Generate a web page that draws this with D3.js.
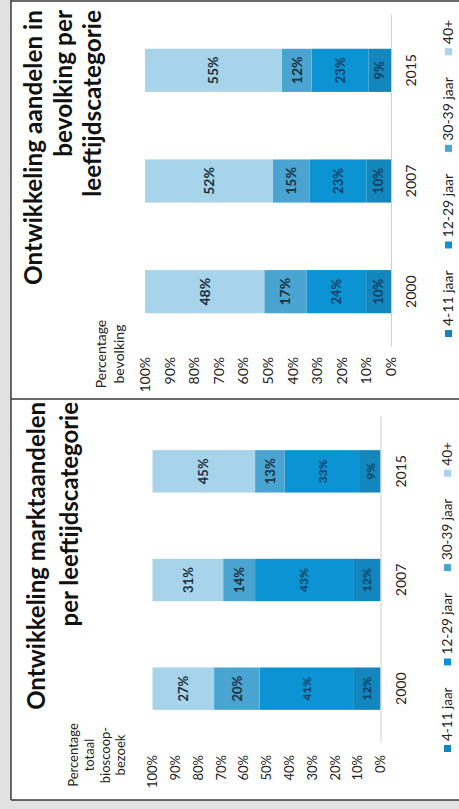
<!DOCTYPE html>
<html>
<head>
<meta charset="utf-8">
<script src="https://cdn.jsdelivr.net/npm/d3@7/dist/d3.min.js"></script>
<style>
  html, body { margin: 0; padding: 0; background: #e4e4e4; }
  svg { display: block; }
  text { font-family: Lato, "Open Sans", sans-serif; }
</style>
</head>
<body>
<svg id="chart" width="459" height="809"></svg>
<script>
// ---------------- data ----------------
const years = ["2000", "2007", "2015"];
const categories = ["4-11 jaar", "12-29 jaar", "30-39 jaar", "40+"];

// Ontwikkeling marktaandelen per leeftijdscategorie (percentage totaal bioscoopbezoek)
const markt_4_11  = [12, 12, 9];
const markt_12_29 = [41, 43, 33];
const markt_30_39 = [20, 14, 13];
const markt_40plus = [27, 31, 45];

// Ontwikkeling aandelen in bevolking per leeftijdscategorie (percentage bevolking)
const bev_4_11  = [10, 10, 9];
const bev_12_29 = [24, 23, 23];
const bev_30_39 = [17, 15, 12];
const bev_40plus = [48, 52, 55];

const tickValues = [0, 10, 20, 30, 40, 50, 60, 70, 80, 90, 100];
const tickLabels = ["0%", "10%", "20%", "30%", "40%", "50%", "60%", "70%", "80%", "90%", "100%"];

const titleMarkt = ["Ontwikkeling marktaandelen", "per leeftijdscategorie"];
const titleBev = ["Ontwikkeling aandelen in", "bevolking per", "leeftijdscategorie"];
const axisTitleMarkt = ["Percentage", "totaal", "bioscoop-", "bezoek"];
const axisTitleBev = ["Percentage", "bevolking"];

// ---------------- styles ----------------
const colors = ["#1286bd", "#0b93d3", "#4aa4d2", "#a7d3eb"];
const labelColors = ["#0b3f5e", "#0b3f5e", "#1a2f3b", "#1a2f3b"];

// ---------------- layout ----------------
const W = 459, H = 809;
const svg = d3.select("#chart");

svg.append("rect").attr("width", W).attr("height", H).attr("fill", "#e2e2e2");

// the scanned page is rotated: draw upright (u horizontal, v vertical), rotate -90deg
const root = svg.append("g").attr("transform", `translate(0,${H}) rotate(-90)`);

root.append("rect").attr("x", 9).attr("y", 11).attr("width", H - 9).attr("height", W - 11).attr("fill", "#ffffff");

function buildRows(a, b, c, d) {
  return years.map((y, i) => ({ year: y, [categories[0]]: a[i], [categories[1]]: b[i], [categories[2]]: c[i], [categories[3]]: d[i] }));
}

function fitFont(sel, target, start) {
  sel.attr("font-size", start);
  const len = sel.node().getComputedTextLength();
  return start * target / len;
}

function drawPanel(cfg) {
  const g = root.append("g");
  const rows = buildRows(...cfg.series);
  const stack = d3.stack().keys(categories).offset(d3.stackOffsetExpand);
  const layers = stack(rows);

  const x = d3.scaleBand().domain(years).range([cfg.u0, cfg.u1]).paddingInner(0.61).paddingOuter(0.305);
  const y = d3.scaleLinear().domain([0, 1]).range([cfg.v0, cfg.v100]);

  // title (right-aligned)
  const probe = g.append("text").attr("font-weight", 700).text(cfg.title[0]);
  const fs = fitFont(probe, cfg.titleLen, 24);
  probe.remove();
  cfg.title.forEach((t, i) => {
    g.append("text")
      .attr("x", cfg.titleRight).attr("y", cfg.titleBase[i])
      .attr("text-anchor", "end").attr("font-weight", 700)
      .attr("font-size", fs).attr("fill", "#111")
      .text(t);
  });

  // axis title
  cfg.axisTitle.forEach((t, i) => {
    g.append("text")
      .attr("x", cfg.axisTitleCenter).attr("y", cfg.axisTitleBase[i])
      .attr("text-anchor", "middle").attr("font-size", cfg.axisTitleSize).attr("fill", "#222")
      .text(t);
  });

  // value axis (tick labels only)
  const yAxis = d3.axisLeft(y.copy().domain([0, 100]))
    .tickValues(tickValues).tickFormat((d, i) => tickLabels[i]).tickSize(0).tickPadding(0);
  const ag = g.append("g").attr("transform", `translate(${cfg.tickEnd},0)`).call(yAxis);
  ag.select(".domain").remove();
  ag.selectAll("text").attr("font-size", cfg.tickSize).attr("fill", "#222").attr("font-family", "Lato, sans-serif");

  // bars
  layers.forEach((layer, k) => {
    g.append("g").selectAll("rect").data(layer).join("rect")
      .attr("x", d => x(d.data.year))
      .attr("width", x.bandwidth())
      .attr("y", d => y(d[1]))
      .attr("height", d => y(d[0]) - y(d[1]))
      .attr("fill", colors[k]);
    g.append("g").selectAll("text").data(layer).join("text")
      .attr("x", d => x(d.data.year) + x.bandwidth() / 2)
      .attr("y", d => (y(d[0]) + y(d[1])) / 2)
      .attr("dy", "0.36em")
      .attr("text-anchor", "middle")
      .attr("font-size", k >= 2 ? cfg.labelSize : cfg.labelSize - 1)
      .attr("font-weight", 700)
      .attr("fill", labelColors[k])
      .text(d => d.data[categories[k]] + "%");
  });

  // category axis
  const xAxis = d3.axisBottom(x).tickSize(0).tickPadding(0);
  const xg = g.append("g").attr("transform", `translate(0,${cfg.v0})`).call(xAxis);
  xg.select(".domain").attr("stroke", "#cfcfcf").attr("stroke-width", 1);
  xg.selectAll("text").attr("font-size", cfg.catSize).attr("fill", "#222")
    .attr("font-family", "Lato, sans-serif").attr("dy", 0).attr("y", cfg.catBase - cfg.v0);

  // legend
  const lg = g.append("g");
  let cu = cfg.legendStart;
  categories.forEach((c, k) => {
    lg.append("rect").attr("x", cu).attr("y", cfg.legendBase - 8).attr("width", 7).attr("height", 7).attr("fill", colors[k]);
    const t = lg.append("text").attr("x", cu + 11).attr("y", cfg.legendBase)
      .attr("font-size", cfg.legendSize).attr("fill", "#222").text(c);
    cu += 11 + t.node().getComputedTextLength() + 22;
  });
}

// left panel (marktaandelen)
drawPanel({
  series: [markt_4_11, markt_12_29, markt_30_39, markt_40plus],
  u0: 66, u1: 392, v0: 380.5, v100: 152.5,
  title: titleMarkt, titleLen: 308, titleRight: 407, titleBase: [45, 78],
  axisTitle: axisTitleMarkt, axisTitleCenter: 54, axisTitleBase: [78, 94, 110, 125], axisTitleSize: 13,
  tickEnd: 54, tickSize: 13,
  labelSize: 13, catSize: 14, catBase: 406,
  legendStart: 57, legendBase: 452, legendSize: 13.5
});

// right panel (bevolking)
drawPanel({
  series: [bev_4_11, bev_12_29, bev_30_39, bev_40plus],
  u0: 462, u1: 794, v0: 391, v100: 145,
  title: titleBev, titleLen: 275, titleRight: 799, titleBase: [42, 72, 101],
  axisTitle: axisTitleBev, axisTitleCenter: 455, axisTitleBase: [106, 124], axisTitleSize: 14,
  tickEnd: 452, tickSize: 14,
  labelSize: 14, catSize: 14, catBase: 416,
  legendStart: 472, legendBase: 453, legendSize: 14
});

// frame lines
const frame = root.append("g").attr("stroke", "#3a3a3a").attr("stroke-width", 1.5).attr("fill", "none");
frame.append("line").attr("x1", 9).attr("x2", H).attr("y1", 11).attr("y2", 11);
frame.append("line").attr("x1", 9).attr("x2", 9).attr("y1", 11).attr("y2", W);
frame.append("line").attr("x1", 410).attr("x2", 410).attr("y1", 11).attr("y2", W);
frame.append("line").attr("x1", 808).attr("x2", 808).attr("y1", 11).attr("y2", W);
</script>
</body>
</html>
